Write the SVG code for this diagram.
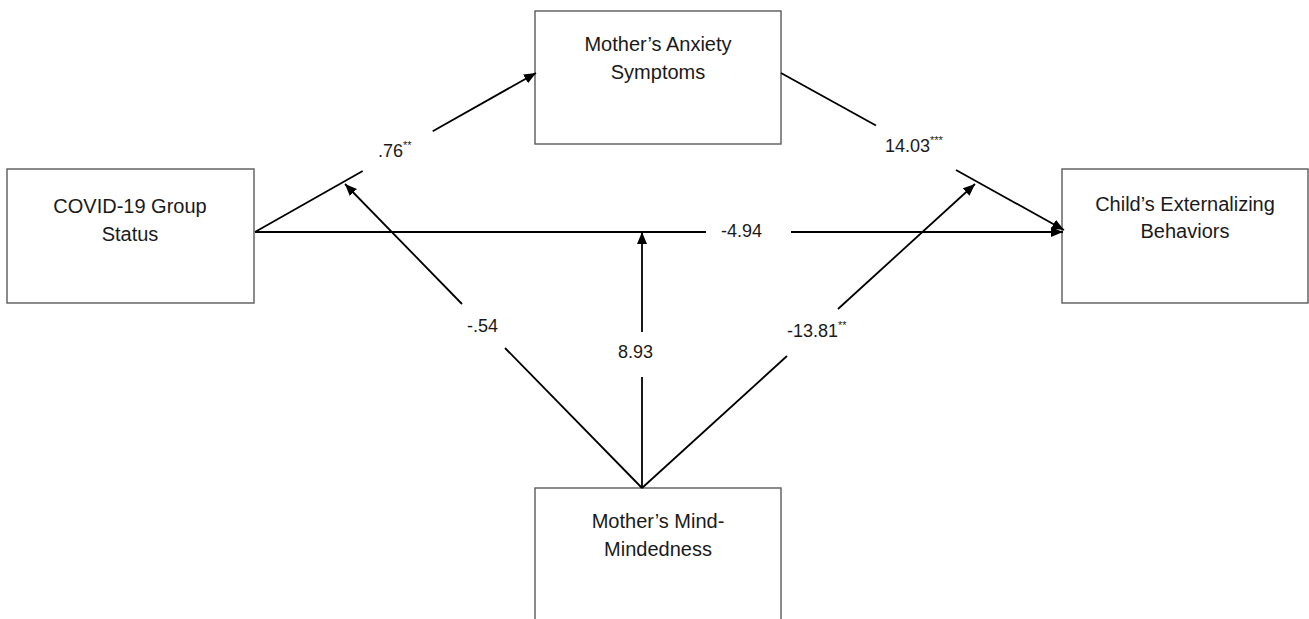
<svg xmlns="http://www.w3.org/2000/svg" width="1309" height="619" viewBox="0 0 1309 619">
<defs>
<style>
.box{fill:#fff;stroke:#5a5a5a;stroke-width:1.4}
.ln{fill:none;stroke:#000;stroke-width:1.8}
.nt{font-family:"Liberation Sans",Arial,sans-serif;font-size:20px;fill:#1a1a1a;text-anchor:middle}
.lb{font-family:"Liberation Sans",Arial,sans-serif;font-size:18px;fill:#1a1a1a}
.sup{font-size:11px}
</style>
<marker id="ah" markerUnits="userSpaceOnUse" markerWidth="14" markerHeight="12" refX="12" refY="5" orient="auto">
<path d="M0,0 L12,5 L0,10 z" fill="#000"/>
</marker>
</defs>
<rect width="1309" height="619" fill="#fff"/>
<g id="covid">
<rect class="box" x="7" y="169" width="247" height="134"/>
<text class="nt" x="130" y="213">COVID-19 Group</text>
<text class="nt" x="130" y="241">Status</text>
</g>
<g id="anxiety">
<rect class="box" x="535" y="11" width="246" height="133"/>
<text class="nt" x="658" y="51">Mother’s Anxiety</text>
<text class="nt" x="658" y="79">Symptoms</text>
</g>
<g id="child">
<rect class="box" x="1062" y="169" width="246" height="134"/>
<text class="nt" x="1185" y="211">Child’s Externalizing</text>
<text class="nt" x="1185" y="238">Behaviors</text>
</g>
<g id="mind">
<rect class="box" x="535" y="488" width="246" height="150"/>
<text class="nt" x="658" y="528">Mother’s Mind-</text>
<text class="nt" x="658" y="556">Mindedness</text>
</g>
<g id="connectors">
<line class="ln" x1="255" y1="232" x2="362.7" y2="171"/>
<line class="ln" x1="432.7" y1="131.2" x2="536" y2="73" marker-end="url(#ah)"/>
<line class="ln" x1="255" y1="232" x2="706" y2="232"/>
<line class="ln" x1="791" y1="232" x2="1063" y2="232" marker-end="url(#ah)"/>
<line class="ln" x1="781" y1="73" x2="876" y2="125.5"/>
<line class="ln" x1="956" y1="170" x2="1064" y2="230" marker-end="url(#ah)"/>
<line class="ln" x1="642" y1="488" x2="505" y2="348"/>
<line class="ln" x1="462" y1="304" x2="345" y2="184" marker-end="url(#ah)"/>
<line class="ln" x1="642" y1="488" x2="642" y2="377"/>
<line class="ln" x1="642" y1="332" x2="642" y2="232" marker-end="url(#ah)"/>
<line class="ln" x1="642" y1="488" x2="787" y2="356"/>
<line class="ln" x1="838" y1="309" x2="975" y2="184" marker-end="url(#ah)"/>
</g>
<g id="labels">
<text class="lb" x="378" y="157">.76<tspan class="sup" dy="-8">**</tspan></text>
<text class="lb" x="721" y="237">-4.94</text>
<text class="lb" x="885" y="152">14.03<tspan class="sup" dy="-8">***</tspan></text>
<text class="lb" x="467" y="332">-.54</text>
<text class="lb" x="618" y="358">8.93</text>
<text class="lb" x="787" y="337">-13.81<tspan class="sup" dy="-8">**</tspan></text>
</g>
</svg>
